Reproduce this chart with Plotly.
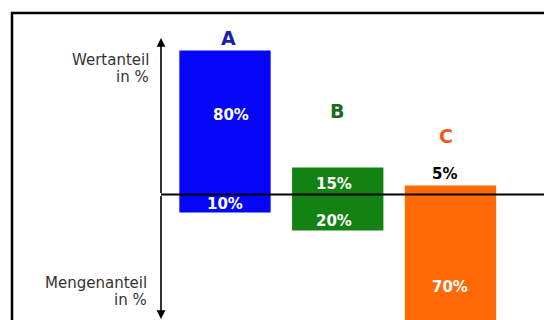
import plotly.graph_objects as go

# ---- data ----
categories = ["A", "B", "C"]
wertanteil = [80, 15, 5]      # value share in % (upwards)
mengenanteil = [10, 20, 70]   # quantity share in % (downwards)
bar_colors = ["#0505f8", "#128212", "#ff6a06"]
letter_colors = ["#1c1cb0", "#1d6a1d", "#ea5f1c"]
y_label_top = ["Wertanteil", "in %"]
y_label_bottom = ["Mengenanteil", "in %"]

# ---- layout geometry (pixels of a 544x320 canvas) ----
W, H = 544, 320
K = 1.8            # px per percent
ZERO_PX = 194.5    # y pixel of zero line
X0_PX = 225.0      # pixel center of first category
DX_PX = 112.75     # pixels per category step

def px(xp):
    return xp / W

def py(yp):
    return 1 - yp / H

FONT = "Verdana, DejaVu Sans, sans-serif"

fig = go.Figure()
fig.add_trace(go.Bar(x=categories, y=wertanteil, marker_color=bar_colors,
                     marker_line_width=0, width=0.81, hoverinfo="skip"))
fig.add_trace(go.Bar(x=categories, y=[-v for v in mengenanteil], marker_color=bar_colors,
                     marker_line_width=0, width=0.81, hoverinfo="skip"))

annotations = []
# category letters above the bars
letter_pos = [(228, 37.5), (337, 110.5), (446, 135.5)]
for cat, col, (xp, yp) in zip(categories, letter_colors, letter_pos):
    annotations.append(dict(x=px(xp), y=py(yp), xref="paper", yref="paper", text=f"<b>{cat}</b>",
                            showarrow=False, font=dict(family=FONT, size=19, color=col),
                            xanchor="center", yanchor="middle"))

# value labels
up_pos = [(231, 115, "white"), (334, 184, "white"), (444, 173.5, "black")]
down_pos = [(225, 204, "white"), (334, 221, "white"), (450, 287, "white")]
for v, (xp, yp, c) in zip(wertanteil, up_pos):
    annotations.append(dict(x=px(xp), y=py(yp), xref="paper", yref="paper", text=f"<b>{v}%</b>",
                            showarrow=False, font=dict(family=FONT, size=15, color=c),
                            xanchor="center", yanchor="middle"))
for v, (xp, yp, c) in zip(mengenanteil, down_pos):
    annotations.append(dict(x=px(xp), y=py(yp), xref="paper", yref="paper", text=f"<b>{v}%</b>",
                            showarrow=False, font=dict(family=FONT, size=15, color=c),
                            xanchor="center", yanchor="middle"))

# axis titles (one annotation per line for tight line spacing)
for line, yp in zip(y_label_top, [60, 77]):
    annotations.append(dict(x=px(151), y=py(yp), xref="paper", yref="paper", text=line,
                            showarrow=False, xanchor="right", yanchor="middle",
                            font=dict(family=FONT, size=15, color="#333333")))
for line, yp in zip(y_label_bottom, [283, 300]):
    annotations.append(dict(x=px(149), y=py(yp), xref="paper", yref="paper", text=line,
                            showarrow=False, xanchor="right", yanchor="middle",
                            font=dict(family=FONT, size=15, color="#333333")))

# vertical axis arrows
annotations.append(dict(x=px(161), y=py(38), xref="paper", yref="paper", ax=0, ay=ZERO_PX - 38,
                        showarrow=True, arrowhead=2, arrowsize=1.1, arrowwidth=1.6,
                        arrowcolor="black", text=""))
annotations.append(dict(x=px(161), y=py(321), xref="paper", yref="paper", ax=0, ay=ZERO_PX - 321,
                        showarrow=True, arrowhead=2, arrowsize=1.1, arrowwidth=1.6,
                        arrowcolor="black", text=""))

shapes = [
    # horizontal zero line
    dict(type="line", xref="paper", yref="y", x0=px(161), x1=1.01, y0=0, y1=0,
         line=dict(color="black", width=2.2)),
    # outer frame
    dict(type="rect", xref="paper", yref="paper", x0=px(12), x1=1.05, y0=-0.05, y1=py(13),
         line=dict(color="black", width=2.5)),
]

fig.update_layout(
    width=W, height=H,
    margin=dict(l=0, r=0, t=0, b=0),
    paper_bgcolor="white", plot_bgcolor="white",
    barmode="overlay", showlegend=False,
    xaxis=dict(range=[-X0_PX / DX_PX, (W - X0_PX) / DX_PX], visible=False,
               categoryorder="array", categoryarray=categories),
    yaxis=dict(range=[-(H - ZERO_PX) / K, ZERO_PX / K], visible=False),
    annotations=annotations, shapes=shapes,
)

fig.write_html("out.html")
